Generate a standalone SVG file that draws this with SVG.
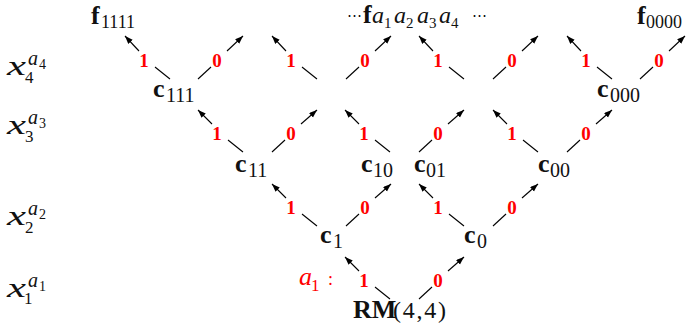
<svg xmlns="http://www.w3.org/2000/svg" width="687" height="331" viewBox="0 0 687 331">
<defs>
<marker id="ah" markerUnits="userSpaceOnUse" markerWidth="9" markerHeight="7" refX="8" refY="3" orient="auto">
<path d="M0,0 L8,3 L0,6 z" fill="#000"/>
</marker>
<style>
.t{font-family:"Liberation Serif","Times New Roman",serif;fill:#111}
.b{font-weight:bold;font-size:26px}
.s{font-size:20px}
.fs{font-size:18px}
.i{font-style:italic}
.lab{font-family:"Liberation Serif","Times New Roman",serif;font-weight:bold;font-size:19px;fill:#f00;text-anchor:middle}
.e{stroke:#000;stroke-width:1.1;fill:none}
.a{marker-end:url(#ah)}
.red{fill:#f00}
</style>
</defs>
<rect width="687" height="331" fill="#fff"/>

<g id="connectors">
<line class="e" x1="390" y1="299" x2="375" y2="287"/><line class="e a" x1="359" y1="271" x2="345" y2="257"/>
<line class="e" x1="419" y1="299" x2="432" y2="287"/><line class="e a" x1="448" y1="271" x2="464" y2="257"/>
<line class="e" x1="317" y1="226" x2="302" y2="214"/><line class="e a" x1="286" y1="198" x2="272" y2="184"/>
<line class="e" x1="346" y1="226" x2="359" y2="214"/><line class="e a" x1="375" y1="198" x2="391" y2="184"/>
<line class="e" x1="464" y1="226" x2="449" y2="214"/><line class="e a" x1="433" y1="198" x2="419" y2="184"/>
<line class="e" x1="493" y1="226" x2="506" y2="214"/><line class="e a" x1="522" y1="198" x2="538" y2="184"/>
<line class="e" x1="243" y1="152" x2="228" y2="140"/><line class="e a" x1="212" y1="124" x2="198" y2="110"/>
<line class="e" x1="272" y1="152" x2="285" y2="140"/><line class="e a" x1="301" y1="124" x2="317" y2="110"/>
<line class="e" x1="390" y1="152" x2="375" y2="140"/><line class="e a" x1="359" y1="124" x2="345" y2="110"/>
<line class="e" x1="419" y1="152" x2="432" y2="140"/><line class="e a" x1="448" y1="124" x2="464" y2="110"/>
<line class="e" x1="538" y1="152" x2="523" y2="140"/><line class="e a" x1="507" y1="124" x2="493" y2="110"/>
<line class="e" x1="567" y1="152" x2="580" y2="140"/><line class="e a" x1="596" y1="124" x2="612" y2="110"/>
<line class="e" x1="170" y1="79" x2="155" y2="67"/><line class="e a" x1="139" y1="51" x2="125" y2="36"/>
<line class="e" x1="198" y1="79" x2="211" y2="67"/><line class="e a" x1="227" y1="51" x2="243" y2="36"/>
<line class="e" x1="317" y1="79" x2="302" y2="67"/><line class="e a" x1="286" y1="51" x2="272" y2="36"/>
<line class="e" x1="346" y1="79" x2="359" y2="67"/><line class="e a" x1="375" y1="51" x2="391" y2="36"/>
<line class="e" x1="464" y1="79" x2="449" y2="67"/><line class="e a" x1="433" y1="51" x2="419" y2="36"/>
<line class="e" x1="493" y1="79" x2="506" y2="67"/><line class="e a" x1="522" y1="51" x2="538" y2="36"/>
<line class="e" x1="612" y1="79" x2="597" y2="67"/><line class="e a" x1="581" y1="51" x2="567" y2="36"/>
<line class="e" x1="640" y1="79" x2="653" y2="67"/><line class="e a" x1="669" y1="51" x2="685" y2="36"/>
</g>

<g id="edge-labels">
<text class="lab" x="364" y="287">1</text><text class="lab" x="438" y="287">0</text>
<text class="lab" x="291" y="214">1</text><text class="lab" x="365" y="214">0</text>
<text class="lab" x="438" y="214">1</text><text class="lab" x="512" y="214">0</text>
<text class="lab" x="217" y="140">1</text><text class="lab" x="291" y="140">0</text>
<text class="lab" x="364" y="140">1</text><text class="lab" x="438" y="140">0</text>
<text class="lab" x="512" y="140">1</text><text class="lab" x="586" y="140">0</text>
<text class="lab" x="144" y="67">1</text><text class="lab" x="217" y="67">0</text>
<text class="lab" x="291" y="67">1</text><text class="lab" x="365" y="67">0</text>
<text class="lab" x="438" y="67">1</text><text class="lab" x="512" y="67">0</text>
<text class="lab" x="586" y="67">1</text><text class="lab" x="659" y="67">0</text>
</g>

<g id="root">
<text class="t b" x="353" y="318" font-size="24">RM</text>
<text class="t" x="393" y="318" font-size="24" textLength="53" lengthAdjust="spacing">(4,4)</text>
</g>
<g id="a1label">
<text class="t i red" x="299" y="285" font-size="26">a</text>
<text class="t red" x="311" y="291" font-size="17">1</text>
<text class="t red" x="328" y="285" font-size="18">:</text>
</g>

<g id="c1"><text class="t b" x="320" y="243">c</text><text class="t s" x="333" y="248">1</text></g>
<g id="c0"><text class="t b" x="464" y="243">c</text><text class="t s" x="477" y="248">0</text></g>
<g id="c11"><text class="t b" x="235" y="172">c</text><text class="t s" x="248" y="177">11</text></g>
<g id="c10"><text class="t b" x="361" y="172">c</text><text class="t s" x="373" y="177">10</text></g>
<g id="c01"><text class="t b" x="414" y="172">c</text><text class="t s" x="426" y="177">01</text></g>
<g id="c00"><text class="t b" x="538" y="172">c</text><text class="t s" x="550" y="177">00</text></g>
<g id="c111"><text class="t b" x="153" y="97">c</text><text class="t s" x="166" y="102">111</text></g>
<g id="c000"><text class="t b" x="597" y="97">c</text><text class="t s" x="610" y="102">000</text></g>

<g id="f1111"><text class="t b" x="91" y="24">f</text><text class="t fs" x="101" y="28">1111</text></g>
<g id="f0000"><text class="t b" x="637" y="24">f</text><text class="t fs" x="646" y="28">0000</text></g>
<g id="fa">
<text class="t" x="347" y="21" font-size="17" font-family="DejaVu Serif" textLength="15" lengthAdjust="spacingAndGlyphs">⋯</text>
<text class="t b" x="363" y="23">f</text>
<text class="t i" x="372" y="23" font-size="24">a</text><text class="t" x="384" y="28" font-size="15">1</text>
<text class="t i" x="394" y="23" font-size="24">a</text><text class="t" x="406" y="28" font-size="15">2</text>
<text class="t i" x="417" y="23" font-size="24">a</text><text class="t" x="429" y="28" font-size="15">3</text>
<text class="t i" x="439" y="23" font-size="24">a</text><text class="t" x="451" y="28" font-size="15">4</text>
<text class="t" x="472" y="21" font-size="17" font-family="DejaVu Serif" textLength="15" lengthAdjust="spacingAndGlyphs">⋯</text>
</g>

<g id="x4">
<text class="t i" x="7" y="75" font-size="27" textLength="19" lengthAdjust="spacingAndGlyphs">x</text>
<text class="t" x="25" y="83" font-size="17">4</text>
<text class="t i" x="28" y="65" font-size="20">a</text>
<text class="t" x="39" y="69" font-size="14">4</text>
</g>
<g id="x3">
<text class="t i" x="7" y="134" font-size="27" textLength="19" lengthAdjust="spacingAndGlyphs">x</text>
<text class="t" x="25" y="142" font-size="17">3</text>
<text class="t i" x="28" y="124" font-size="20">a</text>
<text class="t" x="39" y="128" font-size="14">3</text>
</g>
<g id="x2">
<text class="t i" x="7" y="225" font-size="27" textLength="19" lengthAdjust="spacingAndGlyphs">x</text>
<text class="t" x="25" y="233" font-size="17">2</text>
<text class="t i" x="28" y="215" font-size="20">a</text>
<text class="t" x="39" y="219" font-size="14">2</text>
</g>
<g id="x1">
<text class="t i" x="7" y="297" font-size="27" textLength="19" lengthAdjust="spacingAndGlyphs">x</text>
<text class="t" x="24" y="304" font-size="17">1</text>
<text class="t i" x="28" y="287" font-size="20">a</text>
<text class="t" x="39" y="291" font-size="14">1</text>
</g>
</svg>
